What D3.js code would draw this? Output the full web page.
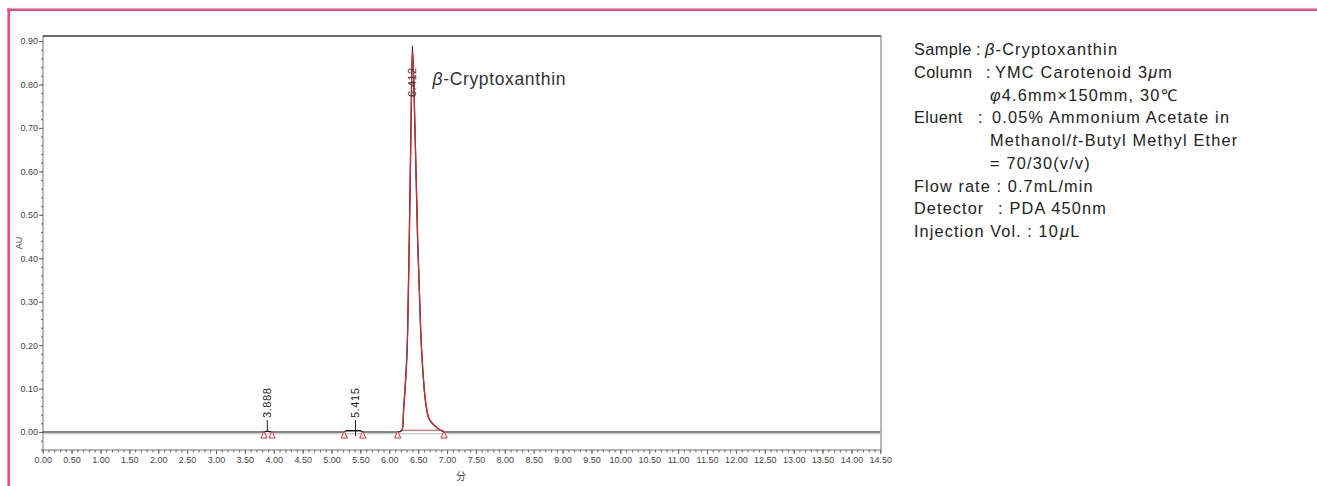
<!DOCTYPE html>
<html>
<head>
<meta charset="utf-8">
<script src="https://cdn.jsdelivr.net/npm/d3@7"></script>
<style>
  html, body { margin: 0; padding: 0; background: #fff; }
  svg { display: block; }
  .tick text { font-family: "Liberation Sans Narrow", "Liberation Sans", Arial, sans-serif; font-size: 9px; fill: #444; }
  .tick line { stroke: #666; }
</style>
</head>
<body>
<svg id="chart" width="1317" height="486"></svg>
<script>
// ---------- data ----------
const traceTime = [0.00, 3.80, 3.86, 3.888, 3.92, 3.98, 5.22, 5.26, 5.415, 5.49, 5.54, 6.15, 6.22, 6.237, 6.242, 6.272, 6.318, 6.346, 6.375, 6.40, 6.445, 6.491, 6.543, 6.606, 6.675, 6.72, 6.791, 6.84, 6.877, 6.95, 14.50];
const traceAU   = [0.000, 0.000, 0.001, 0.002, 0.001, 0.000, 0.000, 0.003, 0.003, 0.003, 0.000, 0.000, 0.004, 0.016, 0.035, 0.097, 0.235, 0.442, 0.695, 0.884, 0.695, 0.442, 0.235, 0.097, 0.035, 0.024, 0.014, 0.008, 0.005, 0.000, 0.000];
const peakTimes  = [3.888, 5.415, 6.412];
const peakLabels = ["3.888", "5.415", "6.412"];
const markerTimes = [3.83, 3.97, 5.22, 5.54, 6.145, 6.947];
const mainPeakStart = 6.22, mainPeakEnd = 6.947, mainPeakBaseAU = 0.004;
const xTicks = d3.range(0, 14.5001, 0.5);
const xMinorTicks = d3.range(0, 14.5001, 0.1);
const yTicks = d3.range(0, 0.9001, 0.1);
const yMinorTicks = d3.range(-0.04, 0.9101, 0.02);
const compoundName = "-Cryptoxanthin";
// info block: label word, and value pieces [text, italic]
const infoLabels = ["Sample", "Column", "", "Eluent", "", "", "Flow rate : 0.7mL/min", "Detector", "Injection Vol. : 10"];
const infoValues = [
  [["β", true], ["-Cryptoxanthin", false]],
  [["YMC Carotenoid 3", false], ["μ", true], ["m", false]],
  [["φ", true], ["4.6mm×150mm, 30℃", false]],
  [["0.05% Ammonium Acetate in", false]],
  [["Methanol/", false], ["t", true], ["-Butyl Methyl Ether", false]],
  [["= 70/30(v/v)", false]],
  [],
  [[": PDA 450nm", false]],
  [["μ", true], ["L", false]]
];

// ---------- layout ----------
const svg = d3.select("#chart");
const x = d3.scaleLinear().domain([0, 14.5]).range([42.7, 880.3]);
const y = d3.scaleLinear().domain([0, 0.9]).range([432, 41]);
const plotL = 43, plotR = 881, plotT = 36, plotB = 450;

// pink frame
svg.append("line").attr("x1", 7.3).attr("x2", 1317).attr("y1", 9.8).attr("y2", 9.8)
  .attr("stroke", "#ec4c82").attr("stroke-width", 2.6);
svg.append("line").attr("x1", 8.7).attr("x2", 8.7).attr("y1", 8.5).attr("y2", 486)
  .attr("stroke", "#ec4c82").attr("stroke-width", 2.6);

// plot frame
svg.append("rect").attr("x", plotL).attr("y", plotT).attr("width", plotR - plotL).attr("height", plotB - plotT)
  .attr("fill", "none").attr("stroke", "#888").attr("stroke-width", 1.2);
svg.append("line").attr("x1", plotL).attr("x2", plotR).attr("y1", plotT).attr("y2", plotT)
  .attr("stroke", "#555").attr("stroke-width", 1.6);

// axes
const yMinor = svg.append("g").attr("transform", `translate(${plotL},0)`)
  .call(d3.axisLeft(y).tickValues(yMinorTicks).tickSize(2).tickFormat(""));
yMinor.select(".domain").remove();
const yMajor = svg.append("g").attr("transform", `translate(${plotL},0)`)
  .call(d3.axisLeft(y).tickValues(yTicks).tickSize(4).tickPadding(1).tickFormat(d3.format(".2f")));
yMajor.select(".domain").remove();

const xMinor = svg.append("g").attr("transform", `translate(0,${plotB})`)
  .call(d3.axisBottom(x).tickValues(xMinorTicks).tickSize(2.5).tickFormat(""));
xMinor.select(".domain").remove();
const xMajor = svg.append("g").attr("transform", `translate(0,${plotB})`)
  .call(d3.axisBottom(x).tickValues(xTicks).tickSize(4).tickPadding(3).tickFormat(d3.format(".2f")));
xMajor.select(".domain").remove();

svg.append("text").attr("transform", "translate(22,243) rotate(-90)")
  .attr("text-anchor", "middle").attr("font-family", "Liberation Sans, Arial, sans-serif")
  .attr("font-size", 9).attr("fill", "#444").text("AU");
svg.append("text").attr("x", 461).attr("y", 480).attr("text-anchor", "middle")
  .attr("font-family", "Noto Sans CJK JP, sans-serif").attr("font-size", 10).attr("fill", "#444").text("分");

// zero reference line
svg.append("line").attr("x1", plotL).attr("x2", plotR).attr("y1", y(0) + 1.8).attr("y2", y(0) + 1.8)
  .attr("stroke", "#bbb").attr("stroke-width", 1);

// trace
const pts = traceTime.map((t, i) => [t, traceAU[i]]);
const line = d3.line().x(d => x(d[0])).y(d => y(d[1])).curve(d3.curveMonotoneX);
svg.append("path").attr("d", line(pts)).attr("fill", "none").attr("stroke", "#111").attr("stroke-width", 1.2);

// integrated main peak in red
const peakPts = pts.filter(d => d[0] >= mainPeakStart && d[0] <= 6.88);
svg.append("path").attr("d", line(peakPts)).attr("fill", "none").attr("stroke", "#d42a30").attr("stroke-width", 1.3);
svg.append("line").attr("x1", x(mainPeakStart)).attr("x2", x(mainPeakEnd))
  .attr("y1", y(mainPeakBaseAU)).attr("y2", y(mainPeakBaseAU))
  .attr("stroke", "#e03a40").attr("stroke-width", 1.2);
// black tip of the raw trace showing above the red apex
svg.append("line").attr("x1", x(6.40)).attr("x2", x(6.40)).attr("y1", y(0.884) - 2).attr("y2", y(0.884) + 4)
  .attr("stroke", "#222").attr("stroke-width", 1);

// peak marker ticks and labels
peakTimes.forEach((t, i) => {
  const px = x(t);
  if (i < 2) {
    const bottom = i === 0 ? y(0) : y(0) + 4;
    svg.append("line").attr("x1", px).attr("x2", px).attr("y1", y(0) - 12).attr("y2", bottom)
      .attr("stroke", "#222").attr("stroke-width", 1);
    svg.append("text").attr("transform", `translate(${px},${y(0) - 14}) rotate(-90)`)
      .attr("dy", "0.35em").attr("text-anchor", "start")
      .attr("font-family", "Liberation Sans, Arial, sans-serif").attr("font-size", 11)
      .attr("letter-spacing", 0.6).attr("fill", "#222").text(peakLabels[i]);
  } else {
    svg.append("text").attr("transform", `translate(${px - 0.5},${y(0.884) + 49}) rotate(-90)`)
      .attr("dy", "0.35em").attr("text-anchor", "start")
      .attr("font-family", "Liberation Sans, Arial, sans-serif").attr("font-size", 11)
      .attr("letter-spacing", 0.4).attr("fill", "#333").text(peakLabels[i]);
  }
});

// 5.415 baseline bar
svg.append("line").attr("x1", x(5.26)).attr("x2", x(5.50)).attr("y1", y(0.003)).attr("y2", y(0.003))
  .attr("stroke", "#111").attr("stroke-width", 1.2);

// triangle markers
markerTimes.forEach(t => {
  const px = x(t), top = y(0) - 1;
  svg.append("path").attr("d", `M${px - 3},${top + 7} L${px},${top} L${px + 3},${top + 7} Z`)
    .attr("fill", "#fff").attr("stroke", "#e02a30").attr("stroke-width", 1);
});

// compound label
const cl = svg.append("text").attr("x", 432.5).attr("y", 85)
  .attr("font-family", "Liberation Sans, Arial, sans-serif").attr("font-size", 17.5)
  .attr("letter-spacing", 0.65).attr("fill", "#333");
cl.append("tspan").attr("font-style", "italic").text("β");
cl.append("tspan").text(compoundName);

// info block layout
const colonX = [976, 986, 0, 978, 0, 0, 0, 0, 0];
const valueX = [985, 995, 990, 992, 990, 990, 0, 998, 0];
const infoFont = "Liberation Sans, Arial, sans-serif";
infoLabels.forEach((lab, i) => {
  const by = 55.3 + i * 22.7;
  let labNode = null;
  if (lab) {
    labNode = svg.append("text").attr("x", 914).attr("y", by).attr("font-family", infoFont).attr("font-size", 16.3)
      .attr("letter-spacing", colonX[i] ? 0.4 : 1.1).attr("fill", "#222").text(lab);
    if (colonX[i]) {
      svg.append("text").attr("x", colonX[i]).attr("y", by).attr("font-family", infoFont).attr("font-size", 16.3)
        .attr("fill", "#222").text(":");
    }
  }
  if (!infoValues[i].length) return;
  let vx = valueX[i];
  if (!vx) vx = 914 + labNode.node().getComputedTextLength() + 1.1;
  const v = svg.append("text").attr("x", vx).attr("y", by).attr("font-family", infoFont)
    .attr("font-size", 16.3).attr("letter-spacing", 1.2).attr("fill", "#222");
  infoValues[i].forEach(p => v.append("tspan").attr("font-style", p[1] ? "italic" : null).text(p[0]));
});
</script>
</body>
</html>
